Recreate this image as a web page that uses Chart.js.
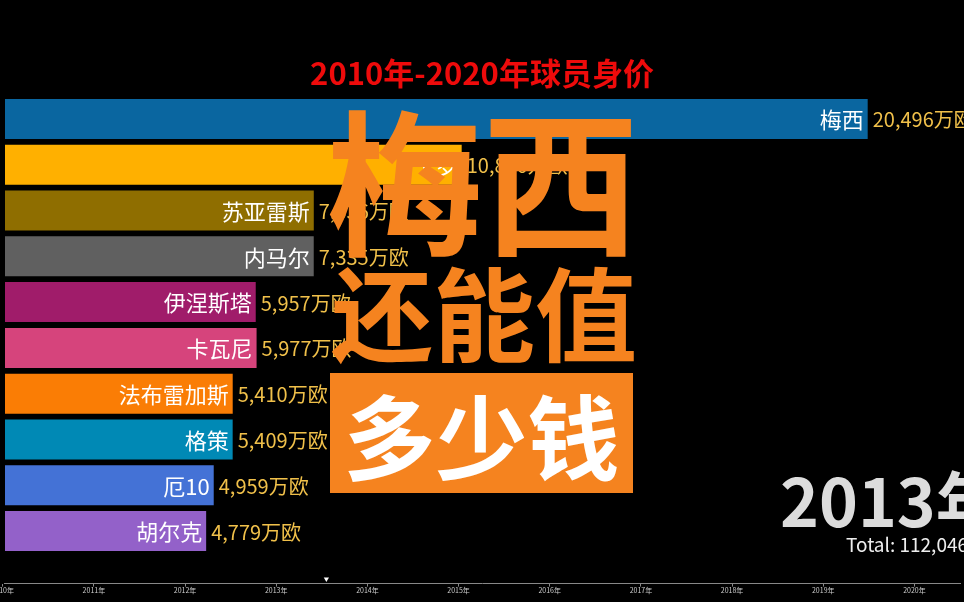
<!DOCTYPE html>
<html>
<head>
<meta charset="utf-8">
<script src="https://cdn.jsdelivr.net/npm/chart.js@4/dist/chart.umd.min.js"></script>
<style>
  html, body { margin:0; padding:0; background:#000; width:964px; height:602px; overflow:hidden; }
  #wrap { position:relative; width:964px; height:602px; }
  canvas { position:absolute; left:0; }
  .ov { position:absolute; font-family:"Noto Sans CJK SC", sans-serif; line-height:1; white-space:nowrap; }
  #title { left:0; width:964px; top:56px; text-align:center; color:#ee0b0b; font-size:31px; font-weight:700; }
  #t1 { left:327px; top:97px; color:#f5831f; font-size:156px; font-weight:700; letter-spacing:0px; }
  #t2 { left:331px; top:259px; color:#f5831f; font-size:102px; font-weight:700; }
  #box { position:absolute; left:330px; top:373px; width:303px; height:120px; background:#f5831f;
         display:flex; align-items:center; justify-content:center; }
  #t3 { color:#fff; font-size:92px; font-weight:700; font-family:"Noto Sans CJK SC", sans-serif; line-height:1; white-space:nowrap; }
  #year { left:780px; top:465px; color:#dcdcdc; font-size:66px; font-weight:700; }
  #total { left:846px; top:534px; color:#eeeeee; font-size:19px; font-family:"Noto Sans CJK SC","Noto Sans",sans-serif; }
</style>
</head>
<body>
<div id="wrap">
  <canvas id="main" width="964" height="602" style="top:0"></canvas>
  <canvas id="timeline" width="964" height="42" style="top:560px"></canvas>
  <div class="ov" id="title">2010年-2020年球员身价</div>
  <div class="ov" id="year">2013年</div>
  <div class="ov" id="total">Total: 112,046万欧</div>
  <div class="ov" id="t1">梅西</div>
  <div class="ov" id="t2">还能值</div>
  <div id="box"><span id="t3">多少钱</span></div>
</div>
<script>
// ---- data ----
const players = ["梅西", "C罗", "苏亚雷斯", "内马尔", "伊涅斯塔", "卡瓦尼", "法布雷加斯", "格策", "厄10", "胡尔克"];
const values  = [20496, 10850, 7336, 7335, 5957, 5977, 5410, 5409, 4959, 4779];
const barColors = ["#0a66a0", "#ffb000", "#8f6e00", "#606060", "#a01c6a", "#d6447c", "#fa7d05", "#0089b5", "#4472d6", "#9361c9"];
const timelineYears = [2010, 2011, 2012, 2013, 2014, 2015, 2016, 2017, 2018, 2019, 2020];
const currentTime = [2013.55];
const unit = "万欧";

const fontCJK = '"Noto Sans CJK SC", sans-serif';

const barLabels = {
  id: 'barLabels',
  afterDatasetsDraw(chart) {
    const ctx = chart.ctx;
    const meta = chart.getDatasetMeta(0);
    ctx.save();
    meta.data.forEach((bar, i) => {
      const y = bar.y;
      ctx.textBaseline = 'middle';
      ctx.font = '22px ' + fontCJK;
      ctx.fillStyle = '#ffffff';
      ctx.textAlign = 'right';
      ctx.fillText(players[i], bar.x - 4, y + 1);
      ctx.font = '20px ' + fontCJK;
      ctx.fillStyle = '#f0c04a';
      ctx.textAlign = 'left';
      ctx.fillText(values[i].toLocaleString('en-US') + unit, bar.x + 5, y + 1);
    });
    ctx.restore();
  }
};

new Chart(document.getElementById('main'), {
  type: 'bar',
  data: {
    labels: players,
    datasets: [{
      data: values,
      backgroundColor: barColors,
      borderWidth: 0,
      barPercentage: 0.873,
      categoryPercentage: 1.0
    }]
  },
  options: {
    indexAxis: 'y',
    responsive: false,
    devicePixelRatio: 1,
    animation: false,
    layout: { padding: { left: 5, right: 33, top: 96, bottom: 48 } },
    scales: {
      x: { display: false, min: 0, max: 22000 },
      y: { display: false }
    },
    plugins: { legend: { display: false }, tooltip: { enabled: false } }
  },
  plugins: [barLabels]
});

new Chart(document.getElementById('timeline'), {
  type: 'scatter',
  data: {
    datasets: [{
      data: currentTime.map(t => ({ x: t, y: 0.3 })),
      pointStyle: 'triangle',
      rotation: 180,
      radius: 3,
      backgroundColor: '#ffffff',
      borderColor: '#ffffff',
      borderWidth: 0,
      clip: false
    }]
  },
  options: {
    responsive: false,
    devicePixelRatio: 1,
    animation: false,
    layout: { padding: { left: 0, right: 0, top: 8, bottom: 7 } },
    scales: {
      x: {
        type: 'linear',
        min: 2010.014,
        max: 2020.5,
        afterBuildTicks(scale) { scale.ticks = timelineYears.map(v => ({ value: v })); },
        afterFit(scale) { scale.paddingLeft = 0; scale.paddingRight = 0; },
        ticks: {
          autoSkip: false,
          maxRotation: 0,
          padding: 0,
          color: '#cccccc',
          font: { size: 7, family: fontCJK },
          callback: v => v + '年'
        },
        grid: { drawOnChartArea: false, tickLength: 3, color: '#888888' },
        border: { color: '#888888', width: 1 }
      },
      y: { display: false, min: 0, max: 1 }
    },
    plugins: { legend: { display: false }, tooltip: { enabled: false } }
  }
});
</script>
</body>
</html>
